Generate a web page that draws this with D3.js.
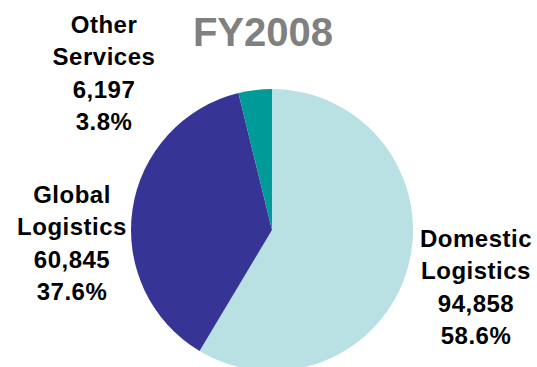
<!DOCTYPE html>
<html>
<head>
<meta charset="utf-8">
<script src="https://cdn.jsdelivr.net/npm/d3@7"></script>
<style>
  html, body { margin: 0; padding: 0; background: #fff; }
  svg { display: block; }
  text { font-family: "Liberation Sans", Arial, sans-serif; font-weight: bold; }
</style>
</head>
<body>
<svg id="chart" width="537" height="367"></svg>
<script>
// FY2008 revenue by segment
const segments = ["Domestic Logistics", "Global Logistics", "Other Services"];
const labelLines = [["Domestic", "Logistics"], ["Global", "Logistics"], ["Other", "Services"]];
const revenue = [94858, 60845, 6197];
const shareLabels = ["58.6%", "37.6%", "3.8%"];
const colors = ["#b9e0e3", "#363596", "#009a99"];
const title = "FY2008";

const svg = d3.select("#chart");
const cx = 272, cy = 230, radius = 141;

const pie = d3.pie().sort(null).value(d => d)(revenue);
const arc = d3.arc().innerRadius(0).outerRadius(radius);

svg.append("g")
  .attr("transform", `translate(${cx},${cy})`)
  .selectAll("path")
  .data(pie)
  .join("path")
  .attr("d", arc)
  .attr("fill", (d, i) => colors[i]);

svg.append("text")
  .attr("x", 263).attr("y", 46)
  .attr("text-anchor", "middle")
  .attr("font-size", 40)
  .attr("fill", "#808080")
  .text(title);

// label blocks: name lines, value, share
const fmt = d3.format(",");
const labelPos = [
  { x: 476, y: 247 },
  { x: 72, y: 203 },
  { x: 104, y: 33 }
];
const lineH = 32.4;

segments.forEach((name, i) => {
  const lines = [...labelLines[i], fmt(revenue[i]), shareLabels[i]];
  const t = svg.append("text")
    .attr("text-anchor", "middle")
    .attr("font-size", 24)
    .attr("letter-spacing", "0.5px")
    .attr("fill", "#000");
  lines.forEach((ln, k) => {
    t.append("tspan")
      .attr("x", labelPos[i].x)
      .attr("y", labelPos[i].y + k * lineH)
      .text(ln);
  });
});
</script>
</body>
</html>
